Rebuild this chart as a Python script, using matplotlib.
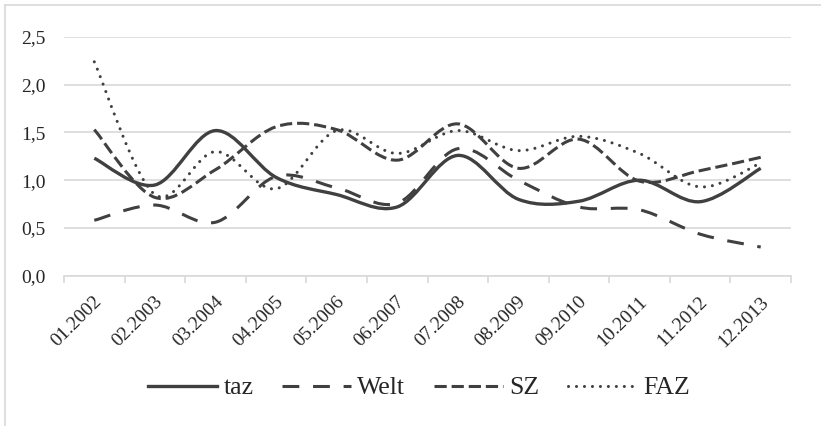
import numpy as np
import matplotlib.pyplot as plt
from matplotlib.path import Path
from matplotlib.patches import PathPatch
from matplotlib.lines import Line2D
from matplotlib.transforms import ScaledTranslation

months = ["01.2002", "02.2003", "03.2004", "04.2005", "05.2006", "06.2007",
          "07.2008", "08.2009", "09.2010", "10.2011", "11.2012", "12.2013"]
taz = [1.23, 0.95, 1.52, 1.03, 0.85, 0.72, 1.26, 0.80, 0.78, 1.00, 0.775, 1.125]
welt = [0.58, 0.74, 0.56, 1.04, 0.92, 0.76, 1.33, 1.00, 0.72, 0.69, 0.435, 0.30]
sz = [1.53, 0.82, 1.11, 1.56, 1.53, 1.21, 1.59, 1.125, 1.43, 0.99, 1.10, 1.24]
faz = [2.24, 0.85, 1.30, 0.91, 1.52, 1.28, 1.52, 1.31, 1.46, 1.28, 0.93, 1.18]
yticks = [0, 0.5, 1.0, 1.5, 2.0, 2.5]
ytick_labels = ["0,0", "0,5", "1,0", "1,5", "2,0", "2,5"]

plt.rcParams['font.family'] = ['Liberation Serif', 'DejaVu Serif']

grey = "#d9d9d9"
ink = "#404040"
txt = "#262626"


def smooth_path(xs, ys):
    # cubic bezier through the points, like the "smoothed line" option in Excel
    pts = np.column_stack([xs, ys]).astype(float)
    n = len(pts)
    verts = [pts[0]]
    codes = [Path.MOVETO]
    for i in range(n - 1):
        p0 = pts[max(i - 1, 0)]
        p1 = pts[i]
        p2 = pts[i + 1]
        p3 = pts[min(i + 2, n - 1)]
        verts += [p1 + (p2 - p0) / 6, p2 - (p3 - p1) / 6, p2]
        codes += [Path.CURVE4] * 3
    return Path(verts, codes)


fig = plt.figure(figsize=(8.21, 4.26), dpi=100)
ax = fig.add_axes([64 / 821, 1 - 275.7 / 426, 727 / 821, 238.7 / 426])

x = np.arange(len(months))
series = [
    ("taz", taz, dict(linestyle="-", capstyle="butt")),
    ("Welt", welt, dict(linestyle=(0, (5.5, 4.5)), capstyle="butt")),
    ("SZ", sz, dict(linestyle=(0, (4, 1.6)), capstyle="butt")),
    ("FAZ", faz, dict(linestyle=(0, (0.01, 2.6)), capstyle="round")),
]

handles = []
for name, vals, st in series:
    lw = 2.4 if name == "taz" else 2.2
    patch = PathPatch(smooth_path(x, vals), facecolor="none", edgecolor=ink,
                      linewidth=lw, linestyle=st["linestyle"],
                      capstyle=st["capstyle"], joinstyle="round")
    ax.add_patch(patch)
    handles.append(Line2D([], [], color=ink, linewidth=lw,
                          linestyle=st["linestyle"],
                          dash_capstyle=st["capstyle"]))

ax.set_xlim(-0.5, len(months) - 0.5)
ax.set_ylim(0, 2.5)

for s in ["top", "right", "left"]:
    ax.spines[s].set_visible(False)
ax.spines["bottom"].set_color(grey)
ax.spines["bottom"].set_linewidth(1.2)

ax.set_yticks(yticks)
ax.set_yticklabels(ytick_labels)
ax.tick_params(axis="y", length=0, pad=13, labelsize=14, labelcolor=txt)
ax.grid(axis="y", color=grey, linewidth=1.2)
ax.set_axisbelow(True)

ax.set_xticks(x)
ax.set_xticklabels(months, rotation=45, ha="right", va="center",
                   rotation_mode="anchor")
ax.set_xticks(np.arange(-0.5, len(months), 1), minor=True)
ax.tick_params(axis="x", which="major", length=0, pad=17, labelsize=14,
               labelcolor=txt)
ax.tick_params(axis="x", which="minor", length=5, width=1.2, color=grey)
offset = ScaledTranslation(0.05, 0, fig.dpi_scale_trans)
for lab in ax.get_xticklabels():
    lab.set_transform(lab.get_transform() + offset)

fig.legend(handles, [s[0] for s in series], loc="center",
           bbox_to_anchor=(419 / 821, 1 - 388 / 426), ncol=4, frameon=False,
           fontsize=18.5, handlelength=2.7, handletextpad=0.25,
           columnspacing=1.1, labelcolor=txt)

# light frame of the chart area (cut off at right and bottom)
fig.add_artist(Line2D([5 / 821, 1], [1 - 5 / 426] * 2, transform=fig.transFigure,
                      color=grey, linewidth=1.2))
fig.add_artist(Line2D([5 / 821] * 2, [0, 1 - 5 / 426], transform=fig.transFigure,
                      color=grey, linewidth=1.2))

fig.savefig("out.png", dpi=100)
